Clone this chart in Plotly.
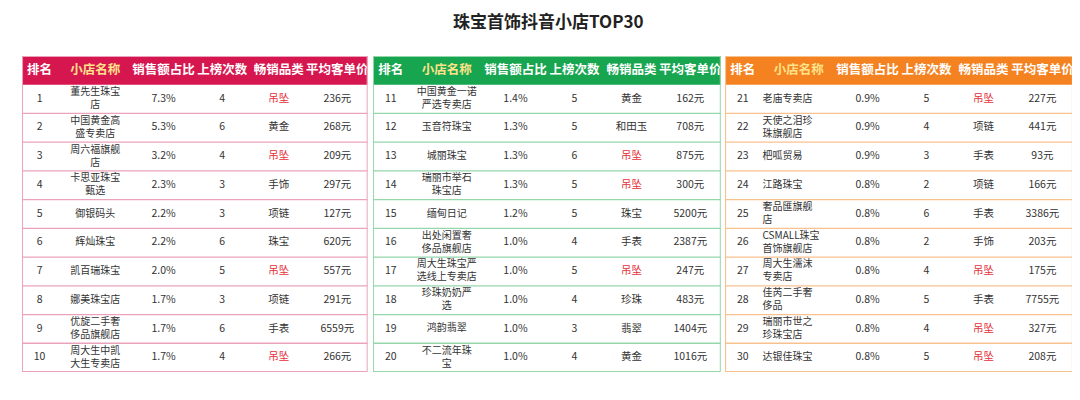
import plotly.graph_objects as go
from plotly.subplots import make_subplots

rank = list(range(1, 31))
shop = ["董先生珠宝<br>店", "中国黄金高<br>盛专卖店", "周六福旗舰<br>店", "卡思亚珠宝<br>甄选", "御银码头",
        "辉灿珠宝", "凯百瑞珠宝", "娜美珠宝店", "优旋二手奢<br>侈品旗舰店", "周大生中凯<br>大生专卖店",
        "中国黄金一诺<br>严选专卖店", "玉音符珠宝", "城丽珠宝", "瑞丽市举石<br>珠宝店", "缅甸日记",
        "出处闲置奢<br>侈品旗舰店", "周大生珠宝严<br>选线上专卖店", "珍珠奶奶严<br>选", "鸿韵翡翠", "不二流年珠<br>宝",
        "老庙专卖店", "天使之泪珍<br>珠旗舰店", "杷呱贸易", "江路珠宝", "奢品匯旗舰<br>店",
        "CSMALL珠宝<br>首饰旗舰店", "周大生濡沫<br>专卖店", "佳芮二手奢<br>侈品", "瑞丽市世之<br>珍珠宝店", "达银佳珠宝"]
share = ["7.3%", "5.3%", "3.2%", "2.3%", "2.2%", "2.2%", "2.0%", "1.7%", "1.7%", "1.7%",
         "1.4%", "1.3%", "1.3%", "1.3%", "1.2%", "1.0%", "1.0%", "1.0%", "1.0%", "1.0%",
         "0.9%", "0.9%", "0.9%", "0.8%", "0.8%", "0.8%", "0.8%", "0.8%", "0.8%", "0.8%"]
times = [4, 6, 4, 3, 3, 6, 5, 3, 6, 4,
         5, 5, 6, 5, 5, 4, 5, 4, 3, 4,
         5, 4, 3, 2, 6, 2, 4, 5, 4, 5]
category = ["吊坠", "黄金", "吊坠", "手饰", "项链", "珠宝", "吊坠", "项链", "手表", "吊坠",
            "黄金", "和田玉", "吊坠", "吊坠", "珠宝", "手表", "吊坠", "珍珠", "翡翠", "黄金",
            "吊坠", "项链", "手表", "项链", "手表", "手饰", "吊坠", "手表", "吊坠", "吊坠"]
price = [236, 268, 209, 297, 127, 620, 557, 291, 6559, 266,
         162, 708, 875, 300, 5200, 2387, 247, 483, 1404, 1016,
         227, 441, 93, 166, 3386, 203, 175, 7755, 327, 208]
headers = ["排名", "小店名称", "销售额占比", "上榜次数", "畅销品类", "平均客单价"]

themes = [("#d6174f", "#eaa3bb"), ("#17a54f", "#95d6ab"), ("#f58220", "#f8c28f")]
xdoms = [(0.013, 0.333), (0.338, 0.660), (0.664, 0.986)]
widths = [36, 78, 62, 58, 58, 62]
centers = [sum(widths[:i]) + widths[i] / 2 for i in range(6)]
total = sum(widths)
FONT = "Noto Sans CJK SC"

fig = make_subplots(rows=1, cols=3)
for k in range(3):
    s = slice(k * 10, k * 10 + 10)
    main, light = themes[k]
    rows = list(range(1, 11))
    cats = category[s]
    cols = [[str(r) for r in rank[s]], shop[s], share[s], [str(t) for t in times[s]], cats,
            ["%d元" % p for p in price[s]]]
    for c in range(6):
        color = "#333333"
        if c == 4:
            color = ["#e8303a" if v == "吊坠" else "#333333" for v in cats]
        xpos = [centers[c]] * 10
        tp = "middle center"
        if k == 2 and c == 1:
            xpos = [widths[0] + 2] * 10
            tp = "middle right"
        fig.add_trace(go.Scatter(x=xpos, y=rows, mode="text", text=cols[c], textposition=tp,
                                 textfont=dict(size=10.5 if c != 1 else 10, color=color, family=FONT),
                                 hoverinfo="skip", showlegend=False), row=1, col=k + 1)
        fig.add_trace(go.Scatter(x=[centers[c]], y=[0], mode="text", text=["<b>%s</b>" % headers[c]],
                                 textfont=dict(size=12.5, family=FONT,
                                               color="#ffe38a" if c == 1 else "white"),
                                 hoverinfo="skip", showlegend=False), row=1, col=k + 1)
    xr = "x" if k == 0 else "x%d" % (k + 1)
    yr = "y" if k == 0 else "y%d" % (k + 1)
    fig.add_shape(type="rect", xref=xr, yref=yr, x0=0, x1=total, y0=-0.5, y1=0.5,
                  fillcolor=main, line_width=0, layer="below")
    for r in range(1, 10):
        fig.add_shape(type="line", xref=xr, yref=yr, x0=0, x1=total, y0=r + 0.5, y1=r + 0.5,
                      line=dict(color=light, width=1.3))
    fig.add_shape(type="rect", xref=xr, yref=yr, x0=0, x1=total, y0=-0.5, y1=10.5,
                  line=dict(color=light, width=2))
    axn = "" if k == 0 else str(k + 1)
    fig.update_layout(**{
        "xaxis" + axn: dict(domain=list(xdoms[k]), range=[0, total], visible=False, fixedrange=True),
        "yaxis" + axn: dict(domain=[0.09, 0.88], range=[10.5, -0.5], visible=False, fixedrange=True),
    })

fig.add_annotation(text="<b>珠宝首饰抖音小店TOP30</b>", xref="paper", yref="paper", x=0.5, y=0.97,
                   xanchor="center", yanchor="middle", showarrow=False,
                   font=dict(size=17, color="#222222", family=FONT))
fig.update_layout(
    width=1080, height=400, margin=dict(l=0, r=0, t=0, b=0),
    paper_bgcolor="white", plot_bgcolor="white",
)
fig.write_html("out.html")
